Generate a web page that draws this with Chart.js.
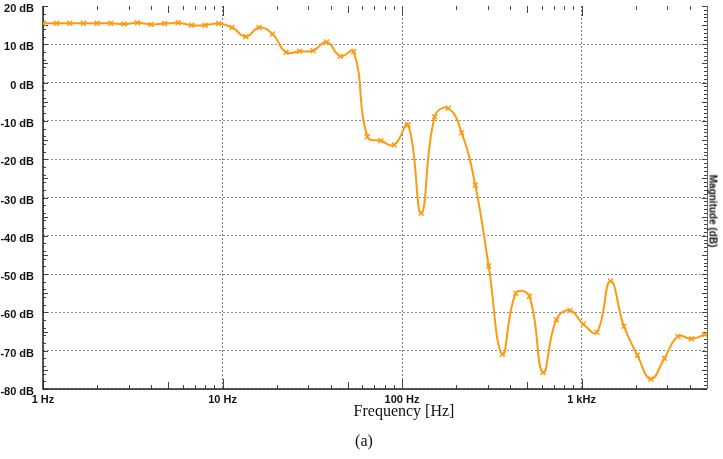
<!DOCTYPE html>
<html>
<head>
<meta charset="utf-8">
<script src="https://cdn.jsdelivr.net/npm/chart.js@4.4.1/dist/chart.umd.min.js"></script>
<style>
  html, body { margin: 0; padding: 0; background: #fff; }
  #wrap { position: relative; width: 723px; height: 459px; }
  #chart { position: absolute; left: 0; top: 0; }
  .lbl { position: absolute; transform: translate(-50%, -50%); white-space: nowrap; color: #111; }
  #xTitle { left: 404px; top: 411px; font: 16px "Liberation Serif", serif; }
  #caption { left: 364px; top: 441px; font: 16px "Liberation Serif", serif; }
  #yTitle { left: 713px; top: 211px; font: bold 10px "Liberation Sans Narrow", "Liberation Sans", sans-serif;
            transform: translate(-50%, -50%) rotate(90deg); }
</style>
</head>
<body>
<div id="wrap">
  <canvas id="chart" width="723" height="459"></canvas>
  <div class="lbl" id="xTitle">Frequency [Hz]</div>
  <div class="lbl" id="caption">(a)</div>
  <div class="lbl" id="yTitle">Magnitude (dB)</div>
</div>
<script>
const freqs = [1, 1.19, 1.41, 1.68, 2, 2.38, 2.83, 3.36, 4, 4.76,
  5.66, 6.73, 8, 9.51, 11.3, 13.5, 16, 19, 22.6, 26.9,
  32, 38, 45.3, 53.8, 64, 76.1, 90.5, 108, 128, 152,
  181, 215, 256, 304, 362, 431, 512, 609, 724, 861,
  1024, 1218, 1448, 1722, 2048, 2435, 2896, 3444, 4096, 4871];
// magnitude (dB)
const magnitude = [15.5, 15.5, 15.5, 15.5, 15.5, 15.5, 15.3, 15.6, 15.2, 15.4,
  15.6, 15.0, 15.0, 15.4, 14.4, 12.0, 14.4, 12.7, 7.9, 8.2,
  8.3, 10.6, 6.9, 8.1, -14.1, -15.2, -16.3, -11.0, -34.1, -8.9,
  -6.7, -13.1, -26.8, -47.9, -70.9, -55.0, -55.8, -75.7, -61.9, -59.5,
  -63.1, -65.2, -51.8, -63.6, -71.2, -77.4, -72.0, -66.3, -66.9, -65.8];

const xTickValues = [1, 10, 100, 1000];
const xTickLabels = ["1 Hz", "10 Hz", "100 Hz", "1 kHz"];
const yMin = -80, yMax = 20, yStep = 10;

const tickFont = { family: "'Liberation Sans Narrow', 'Liberation Sans', sans-serif", size: 11, weight: "bold" };

// axes lines and the small inward tick marks
const frame = {
  id: "frame",
  beforeDatasetsDraw(chart) {
    const { ctx, chartArea: a, scales } = chart;
    const xs = scales.x, ys = scales.y;
    ctx.save();
    ctx.strokeStyle = "#444";
    ctx.lineWidth = 1;
    ctx.beginPath();
    for (let d = 1; d <= 1000; d *= 10) {
      for (let m = 1; m <= 9; m++) {
        const v = m * d;
        if (v > xs.max) break;
        const px = Math.round(xs.getPixelForValue(v)) + 0.5;
        const len = m === 1 ? 10 : (m === 5 ? 7 : 4);
        ctx.moveTo(px, a.bottom); ctx.lineTo(px, a.bottom - len);
        ctx.moveTo(px, a.top); ctx.lineTo(px, a.top + len);
      }
    }
    for (let v = yMin; v <= yMax; v += 1) {
      const py = Math.round(ys.getPixelForValue(v)) + 0.5;
      const len = v % 5 === 0 ? 5 : 3;
      if (v % 2 === 0 || v % 5 === 0) { ctx.moveTo(a.left, py); ctx.lineTo(a.left + len, py); }
      ctx.moveTo(a.right, py); ctx.lineTo(a.right - len, py);
    }
    ctx.stroke();
    ctx.strokeStyle = "#222";
    ctx.lineWidth = 1.5;
    ctx.beginPath();
    ctx.moveTo(a.left, a.top); ctx.lineTo(a.left, a.bottom); ctx.lineTo(a.right, a.bottom);
    ctx.stroke();
    ctx.strokeStyle = "#666";
    ctx.lineWidth = 1;
    ctx.beginPath();
    ctx.moveTo(a.right + 0.5, a.top); ctx.lineTo(a.right + 0.5, a.bottom);
    ctx.stroke();
    ctx.restore();
  },
};

new Chart(document.getElementById("chart"), {
  type: "line",
  data: {
    datasets: [{
      data: freqs.map((f, i) => ({ x: f, y: magnitude[i] })),
      borderColor: "#ff9a10",
      backgroundColor: "#ff9a10",
      borderWidth: 2,
      tension: 0.45,
      pointStyle: "crossRot",
      pointRadius: 3.5,
      pointBorderWidth: 1.5,
      pointBorderColor: "#ff9a10",
    }],
  },
  options: {
    responsive: false,
    animation: false,
    layout: { padding: { top: 6, right: 16, left: 0, bottom: 0 } },
    plugins: { legend: { display: false }, tooltip: { enabled: false } },
    scales: {
      x: {
        type: "logarithmic",
        min: 1,
        max: 5000,
        afterFit: (s) => { s.height = 70; },
        afterBuildTicks: (s) => { s.ticks = xTickValues.map((v) => ({ value: v })); },
        ticks: {
          autoSkip: false,
          maxRotation: 0,
          padding: 4,
          color: "#111",
          font: tickFont,
          callback: (v) => xTickLabels[xTickValues.indexOf(v)],
        },
        grid: { color: "#7a7a7a", drawTicks: false },
        border: { display: false, dash: [2, 2] },
      },
      y: {
        min: yMin,
        max: yMax,
        afterFit: (s) => { s.width = 43; s.paddingTop = 0; s.paddingBottom = 0; },
        ticks: {
          stepSize: yStep,
          padding: 9,
          labelOffset: 3,
          color: "#111",
          font: tickFont,
          callback: (v) => v + " dB",
        },
        grid: {
          drawTicks: false,
          color: (c) => (c.tick && c.tick.value === yMax ? "rgba(0,0,0,0)" : "#8a8a8a"),
        },
        border: { display: false, dash: [2, 2] },
      },
    },
  },
  plugins: [frame],
});
</script>
</body>
</html>
